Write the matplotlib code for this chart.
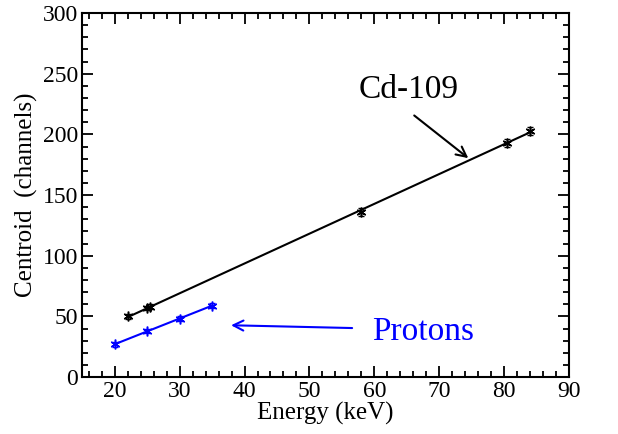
import numpy as np
import matplotlib.pyplot as plt
from matplotlib.ticker import MultipleLocator

plt.rcParams['font.family'] = ['Liberation Serif', 'DejaVu Serif']

# Cd-109 lines
cd_energy = [22.0, 25.0, 25.5, 58.0, 80.5, 84.0]
cd_centroid = [50.0, 57.0, 58.0, 136.0, 193.0, 203.0]
cd_err = [2.0, 2.0, 2.0, 3.0, 3.0, 3.5]

# Protons
p_energy = [20.0, 25.0, 30.0, 35.0]
p_centroid = [27.0, 38.0, 48.0, 59.0]
p_err = [2.0, 2.0, 2.0, 2.0]

fig = plt.figure(figsize=(6.18, 4.34), dpi=100)
ax = fig.add_axes([0.133, 0.131, 0.788, 0.839])

star = (6, 2, 0)

# linear fits
for x, y, err, c in [(cd_energy, cd_centroid, cd_err, 'black'),
                     (p_energy, p_centroid, p_err, 'blue')]:
    k, b = np.polyfit(x, y, 1)
    xs = np.array([min(x), max(x)])
    ax.plot(xs, k * xs + b, color=c, lw=1.5)
    ax.errorbar(x, y, yerr=err, fmt='none', ecolor=c, elinewidth=1, capsize=2.5)
    ax.plot(x, y, linestyle='none', marker=star, ms=7, mew=1.1, color=c)

ax.set_xlim(15, 90)
ax.set_ylim(0, 300)
ax.xaxis.set_major_locator(MultipleLocator(10))
ax.xaxis.set_minor_locator(MultipleLocator(2))
ax.yaxis.set_major_locator(MultipleLocator(50))
ax.yaxis.set_minor_locator(MultipleLocator(10))
ax.tick_params(which='both', direction='in', top=True, right=True, width=1.3,
               labelsize=17, pad=3)
ax.tick_params(which='major', length=8)
ax.tick_params(which='minor', length=4)
for s in ax.spines.values():
    s.set_linewidth(1.5)

ax.set_xlabel('Energy (keV)', fontsize=18, labelpad=0)
ax.set_ylabel('Centroid  (channels)', fontsize=18, labelpad=3)

ax.annotate('', xy=(74.8, 179), xytext=(65.8, 217),
            arrowprops=dict(arrowstyle='->', color='black', lw=1.5,
                            mutation_scale=18))
ax.text(65.2, 237, 'Cd-109', fontsize=24, ha='center', va='center')

ax.annotate('', xy=(37.5, 42.8), xytext=(57.0, 40.4),
            arrowprops=dict(arrowstyle='->', color='blue', lw=1.5,
                            mutation_scale=18))
ax.text(67.5, 37, 'Protons', fontsize=24, ha='center', va='center', color='blue')

fig.savefig('out.png', dpi=100)
